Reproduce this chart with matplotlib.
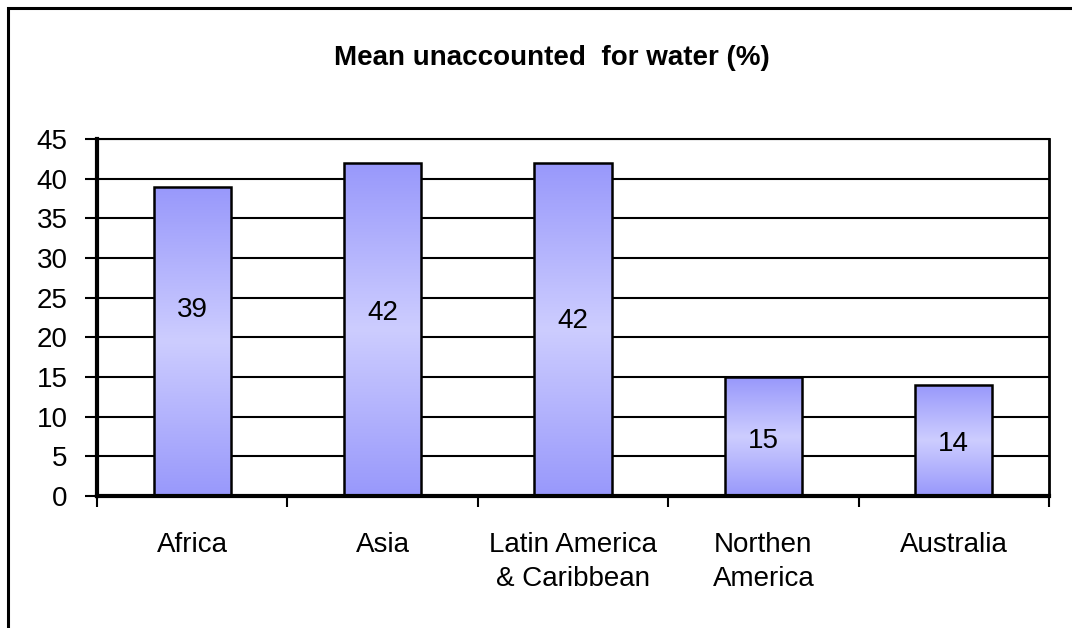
import numpy as np
import matplotlib
matplotlib.use("Agg")
import matplotlib.pyplot as plt
from matplotlib.patches import Rectangle
from matplotlib.colors import LinearSegmentedColormap

plt.rcParams['font.family'] = ['Liberation Sans', 'DejaVu Sans']

title = "Mean unaccounted  for water (%)"
categories = ["Africa", "Asia", "Latin America\n& Caribbean", "Northen\nAmerica", "Australia"]
values = [39, 42, 42, 15, 14]
yticks = [0, 5, 10, 15, 20, 25, 30, 35, 40, 45]

# vertical placement of the value labels inside each bar
label_y = [23.4, 23.1, 22.0, 6.9, 6.6]

FS = 20

W, H = 1072, 628
fig = plt.figure(figsize=(W / 100, H / 100), dpi=100)
fig.patch.set_facecolor('white')

# outer chart frame (runs off the right and bottom edges)
fig.add_artist(Rectangle((8 / W, -0.05), 1.2, 1 - 8 / H + 0.05,
                         transform=fig.transFigure, fill=False,
                         edgecolor='black', linewidth=2.2, zorder=10))

ax = fig.add_axes([97 / W, 1 - 496 / H, (1049 - 97) / W, (496 - 139) / H])
n = len(categories)

x = np.arange(n) + 0.5
bar_w = 0.405
cmap = LinearSegmentedColormap.from_list('bargrad', ['#9898fb', '#cdcdff', '#9898fb'])
grad = np.linspace(0, 1, 256).reshape(-1, 1)

bars = ax.bar(x, values, width=bar_w, color='none', edgecolor='black',
              linewidth=1.8, zorder=3)
for b in bars:
    x0, y0 = b.get_x(), b.get_y()
    im = ax.imshow(grad, cmap=cmap, aspect='auto', origin='lower',
                   extent=(x0, x0 + b.get_width(), y0, y0 + b.get_height()),
                   zorder=2, interpolation='bilinear')
    im.set_clip_path(b)

for xi, v, ly in zip(x, values, label_y):
    ax.text(xi, ly, str(v), ha='center', va='center', fontsize=FS, zorder=4)

ax.set_xlim(0, n)
ax.set_ylim(0, 45)

ax.set_yticks(yticks)
ax.set_yticklabels([str(t) for t in yticks], fontsize=FS)
ax.yaxis.grid(True, color='black', linewidth=1.5, zorder=0)
ax.set_axisbelow(True)

ax.set_xticks(x)
ax.set_xticklabels(categories, fontsize=FS, linespacing=1.38, va='top')
ax.set_xticks(np.arange(n + 1), minor=True)
ax.tick_params(axis='x', which='major', length=0, pad=26)
ax.tick_params(axis='x', which='minor', length=8, width=1.5, direction='out')
ax.tick_params(axis='y', length=9, width=1.5, direction='out', pad=12)

ax.spines['left'].set_linewidth(3)
ax.spines['bottom'].set_linewidth(3)
ax.spines['right'].set_linewidth(2)
ax.spines['top'].set_linewidth(1.5)

fig.text(552 / W, 1 - 58 / H, title, ha='center', va='center',
         fontsize=FS, fontweight='bold')

fig.savefig('out.png', dpi=100, facecolor='white')
